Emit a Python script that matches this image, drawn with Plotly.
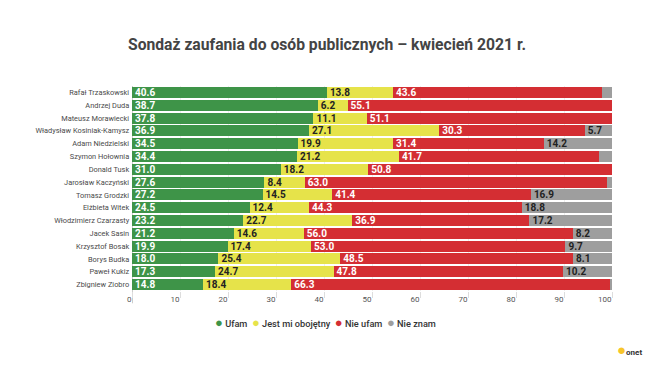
import plotly.graph_objects as go

names = ["Rafał Trzaskowski", "Andrzej Duda", "Mateusz Morawiecki", "Władysław Kosiniak-Kamysz",
         "Adam Niedzielski", "Szymon Hołownia", "Donald Tusk", "Jarosław Kaczyński",
         "Tomasz Grodzki", "Elżbieta Witek", "Włodzimierz Czarzasty", "Jacek Sasin",
         "Krzysztof Bosak", "Borys Budka", "Paweł Kukiz", "Zbigniew Ziobro"]
ufam = [40.6, 38.7, 37.8, 36.9, 34.5, 34.4, 31.0, 27.6, 27.2, 24.5, 23.2, 21.2, 19.9, 18.0, 17.3, 14.8]
obojetny = [13.8, 6.2, 11.1, 27.1, 19.9, 21.2, 18.2, 8.4, 14.5, 12.4, 22.7, 14.6, 17.4, 25.4, 24.7, 18.4]
nie_ufam = [43.6, 55.1, 51.1, 30.3, 31.4, 41.7, 50.8, 63.0, 41.4, 44.3, 36.9, 56.0, 53.0, 48.5, 47.8, 66.3]
nie_znam = [2.0, 0.0, 0.0, 5.7, 14.2, 2.7, 0.0, 1.0, 16.9, 18.8, 17.2, 8.2, 9.7, 8.1, 10.2, 0.5]
series_names = ["Ufam", "Jest mi obojętny", "Nie ufam", "Nie znam"]
colors = ["#3e9448", "#e6e34a", "#d42e33", "#9e9e9e"]
text_colors = ["white", "#222222", "white", "#222222"]
tick_vals = [0, 10, 20, 30, 40, 50, 60, 70, 80, 90, 100]

# page has an 8px body margin; the figure is sized to fill the rest of the window
W, H = 647, 374
L, R, T, B = 124, 43, 78, 91
PW, PH = W - L - R, H - T - B


def px(fx):
    return (fx - L) / PW


def py(fy):
    return (H - B - fy) / PH


fig = go.Figure()
for vals, nm, col, tc in zip([ufam, obojetny, nie_ufam, nie_znam], series_names, colors, text_colors):
    labels = [f"{v:.1f}" if v >= 5 else "" for v in vals]
    fig.add_trace(go.Bar(
        y=names, x=vals, orientation="h", name=nm,
        marker=dict(color=col, line=dict(width=0)),
        text=labels, textposition="inside", insidetextanchor="start",
        textangle=0, constraintext="none",
        textfont=dict(family="Roboto", size=10, color=tc, weight="bold"),
        showlegend=False, hoverinfo="x+y+name",
    ))

fig.update_layout(
    barmode="stack",
    bargap=0.14,
    width=W, height=H,
    margin=dict(l=L, r=R, t=T, b=B, autoexpand=False),
    paper_bgcolor="white", plot_bgcolor="white",
    font=dict(family="Roboto", color="#555555"),
    showlegend=False,
    title=dict(text="<b>Sondaż zaufania do osób publicznych – kwiecień 2021 r.</b>",
               x=(327 - 8) / W, xref="container", xanchor="center",
               y=1 - 37 / H, yref="container", yanchor="middle",
               font=dict(family="Roboto", size=15.7, color="#444444")),
    uniformtext=dict(mode=False),
)
fig.update_xaxes(range=[0, 100], tickvals=tick_vals, showgrid=True, gridcolor="#eeeeee",
                 gridwidth=1, zeroline=False, ticks="outside", ticklen=6, tickcolor="#dddddd",
                 ticklabelposition="outside left",
                 tickfont=dict(family="Roboto", size=8, color="#555555"), fixedrange=True)
fig.update_yaxes(autorange="reversed", showgrid=False, ticks="", ticksuffix=" ",
                 showline=False,
                 tickfont=dict(family="Roboto", size=7.4, color="#4a4a4a"))
fig.add_shape(type="line", xref="x", yref="paper", x0=0, x1=0, y0=-0.06, y1=1,
              line=dict(color="#999999", width=1), layer="below")

# legend drawn as one line of coloured dots and names
legend_parts = []
for nm, col in zip(series_names, colors):
    legend_parts.append(f"<span style='color:{col};font-size:13px'>●</span> {nm}")
fig.add_annotation(xref="paper", yref="paper", x=px(325 - 8), y=py(322 - 8),
                   xanchor="center", yanchor="middle", showarrow=False,
                   text="&nbsp;&nbsp;".join(legend_parts),
                   font=dict(family="Roboto", size=9.2, color="#333333", weight=500))

fig.add_annotation(xref="paper", yref="paper", x=px(644 - 8), y=py(350 - 8),
                   xanchor="right", yanchor="middle", showarrow=False,
                   text="<span style='color:#f7c52b;font-size:15px'>●</span><b>onet</b>",
                   font=dict(family="Roboto", size=8, color="#333333"))

fig.write_html("out.html")
